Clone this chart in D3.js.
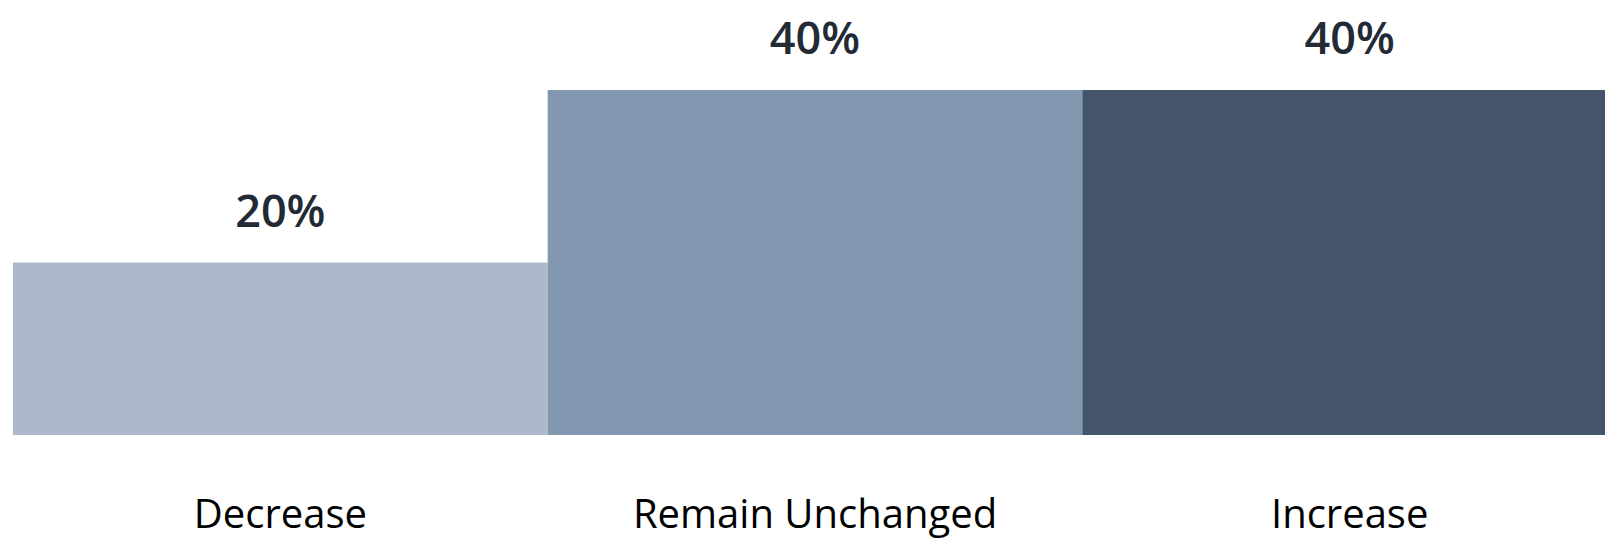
<!DOCTYPE html>
<html>
<head>
<meta charset="utf-8">
<script src="https://cdn.jsdelivr.net/npm/d3@7"></script>
<style>
  html, body { margin: 0; padding: 0; background: #ffffff; overflow: hidden; }
  svg { display: block; }
</style>
</head>
<body>
<svg id="chart" width="1605" height="539"></svg>
<script>
const categories = ["Decrease", "Remain Unchanged", "Increase"];
const values = [20, 40, 40];
const valueLabels = ["20%", "40%", "40%"];
const barColors = ["#adb9ca", "#8497b0", "#44546a"];

const W = 1605, H = 539;
// the last bar runs past the right edge of the picture, as in the reference
const margin = { left: 13, right: -12, top: 90, bottom: 104 };
const svg = d3.select("#chart");

const x = d3.scaleBand()
  .domain(categories)
  .range([margin.left, W - margin.right])
  .paddingInner(0)
  .paddingOuter(0);

const y = d3.scaleLinear()
  .domain([0, 40])
  .range([H - margin.bottom, margin.top]);

const data = categories.map((c, i) => ({ c, v: values[i], label: valueLabels[i], color: barColors[i] }));

svg.append("g").selectAll("rect")
  .data(data)
  .join("rect")
  .attr("x", d => x(d.c))
  .attr("y", d => y(d.v))
  .attr("width", x.bandwidth())
  .attr("height", d => y(0) - y(d.v))
  .attr("fill", d => d.color);

svg.append("g").selectAll("text")
  .data(data)
  .join("text")
  .attr("x", d => x(d.c) + x.bandwidth() / 2)
  .attr("y", d => y(d.v) - 36)
  .attr("text-anchor", "middle")
  .attr("font-family", "'Open Sans', 'Noto Sans', sans-serif")
  .attr("font-weight", 600)
  .attr("font-size", 45)
  .attr("fill", "#222a35")
  .text(d => d.label);

const xAxis = svg.append("g")
  .attr("transform", `translate(0,${y(0)})`)
  .call(d3.axisBottom(x).tickSize(0).tickPadding(0));
xAxis.select(".domain").remove();
xAxis.selectAll("text")
  .attr("y", 93)
  .attr("dy", 0)
  .attr("font-family", "'Open Sans', 'Noto Sans', sans-serif")
  .attr("font-size", 40)
  .attr("fill", "#000000");
</script>
</body>
</html>
